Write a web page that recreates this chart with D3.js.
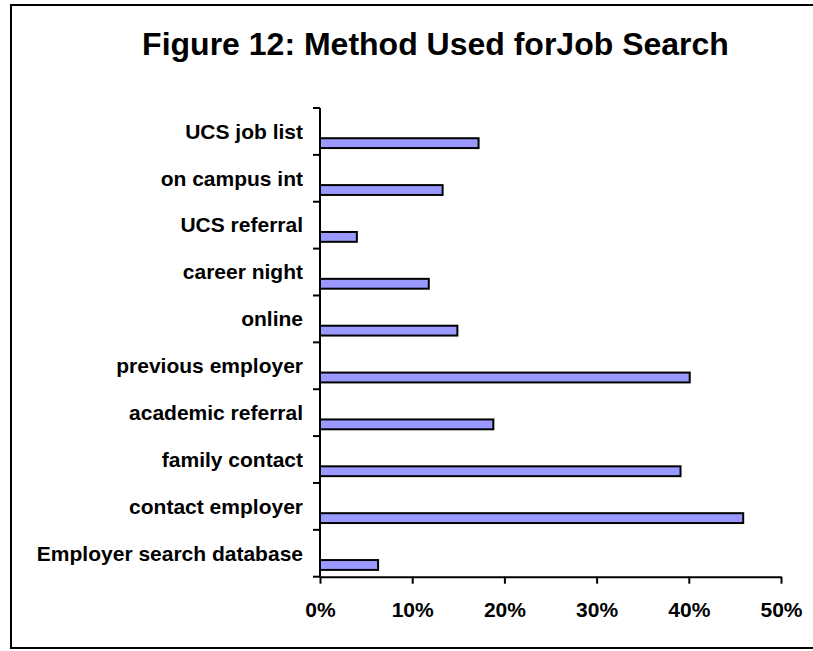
<!DOCTYPE html>
<html>
<head>
<meta charset="utf-8">
<script src="https://cdn.jsdelivr.net/npm/d3@7/dist/d3.min.js"></script>
<style>
  html, body { margin: 0; padding: 0; background: #fff; }
  svg { display: block; font-family: "Liberation Sans", Arial, sans-serif; }
</style>
</head>
<body>
<svg id="chart" width="813" height="651"></svg>
<script>
// Job search methods, listed top to bottom
const categories = [
  "UCS job list",
  "on campus int",
  "UCS referral",
  "career night",
  "online",
  "previous employer",
  "academic referral",
  "family contact",
  "contact employer",
  "Employer search database"
];
// Share of respondents using each method
const shares = [0.172, 0.133, 0.040, 0.118, 0.149, 0.401, 0.188, 0.391, 0.459, 0.063];
const xTicks = [0, 0.1, 0.2, 0.3, 0.4, 0.5];
const titleText = "Figure 12: Method Used forJob Search";

const svg = d3.select("#chart");

// Outer frame (its right side runs past the page edge)
svg.append("rect")
  .attr("x", 11).attr("y", 5)
  .attr("width", 900).attr("height", 643)
  .attr("fill", "none").attr("stroke", "#000").attr("stroke-width", 2);

svg.append("text")
  .attr("x", 435.5).attr("y", 55)
  .attr("text-anchor", "middle")
  .attr("font-size", 32).attr("font-weight", "bold")
  .text(titleText);

const plotLeft = 320, plotRight = 781, plotTop = 108, plotBottom = 576.7;

const x = d3.scaleLinear().domain([0, 0.5]).range([plotLeft, plotRight]);
const y = d3.scaleBand().domain(categories).range([plotTop, plotBottom]).padding(0);
const bw = y.bandwidth();

// Bars sit in the lower part of each band
svg.append("g").selectAll("rect")
  .data(categories)
  .join("rect")
  .attr("x", plotLeft)
  .attr("y", d => y(d) + bw * 0.645)
  .attr("width", (d, i) => x(shares[i]) - plotLeft)
  .attr("height", bw * 0.21)
  .attr("fill", "#9999FF")
  .attr("stroke", "#000")
  .attr("stroke-width", 2);

// Category labels
svg.append("g").selectAll("text")
  .data(categories)
  .join("text")
  .attr("x", 303)
  .attr("y", d => y(d) + bw * 0.655)
  .attr("text-anchor", "end")
  .attr("font-size", 21).attr("font-weight", "bold")
  .text(d => d);

// Vertical axis with ticks at band boundaries
const bounds = categories.map(d => y(d)).concat([plotBottom]);
const yAxis = svg.append("g");
yAxis.append("line")
  .attr("x1", plotLeft).attr("x2", plotLeft).attr("y1", plotTop).attr("y2", plotBottom)
  .attr("stroke", "#000").attr("stroke-width", 2);
yAxis.selectAll("line.tick")
  .data(bounds)
  .join("line")
  .attr("class", "tick")
  .attr("x1", plotLeft - 7).attr("x2", plotLeft)
  .attr("y1", d => d).attr("y2", d => d)
  .attr("stroke", "#000").attr("stroke-width", 2);

// Horizontal axis
const xAxis = svg.append("g")
  .attr("transform", `translate(0,${plotBottom})`)
  .call(d3.axisBottom(x).tickValues(xTicks).tickFormat(d3.format(".0%")).tickSize(7).tickSizeOuter(0));
xAxis.select(".domain").attr("stroke", "#000").attr("stroke-width", 2);
xAxis.selectAll(".tick line").attr("stroke", "#000").attr("stroke-width", 2);
xAxis.selectAll(".tick text")
  .attr("y", 40.5).attr("dy", 0)
  .attr("fill", "#000")
  .attr("font-size", 21).attr("font-weight", "bold")
  .attr("font-family", "Liberation Sans, Arial, sans-serif");
</script>
</body>
</html>
